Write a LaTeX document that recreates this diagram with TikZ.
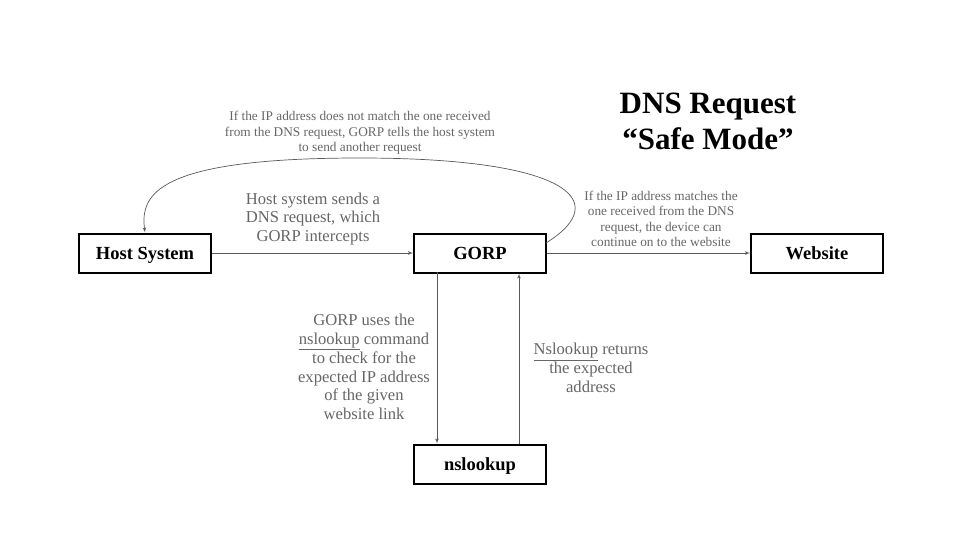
\documentclass[tikz,border=0pt]{standalone}
\usepackage{fontspec}
\setmainfont{Liberation Serif}
\usetikzlibrary{arrows}
\definecolor{linegray}{HTML}{595959}
\definecolor{textgray}{HTML}{666666}

\begin{document}
\begin{tikzpicture}[>=latex',x=1pt,y=-1pt]
  \tikzstyle{block}=[rectangle,draw=black,line width=2pt,minimum width=132pt,minimum height=39pt,inner sep=0pt,text height=12.4pt,text depth=0pt,font=\fontsize{18.5}{22}\selectfont\bfseries]
  \tikzstyle{note}=[text=textgray,align=center,inner sep=0pt,font=\fontsize{16.6}{18.8}\selectfont]
  \tikzstyle{smallnote}=[text=textgray,align=center,inner sep=0pt,font=\fontsize{13.3}{15.4}\selectfont]
  \tikzstyle{link}=[->,draw=linegray,line width=0.7pt]

\useasboundingbox (0,0) rectangle (960,540);

\begin{scope}
\node [block] (host) at (145,253) {Host System};
\node [block] (gorp) at (480,253) {GORP};
\node [block] (web) at (817,253) {Website};
\node [block] (ns) at (480,464) {nslookup};

\node [align=center,font=\fontsize{31}{36}\selectfont\bfseries] (title) at (708,121) {DNS Request\\``Safe Mode''};

\node [smallnote] (tretry) at (360,133) {If the IP address does not match the one received\\from the DNS request, GORP tells the host system\\to send another request};
\node [note] (tsend) at (313,219) {Host system sends a\\DNS request, which\\GORP intercepts};
\node [smallnote] (tmatch) at (661,219) {If the IP address matches the\\one received from the DNS\\request, the device can\\continue on to the website};
\node [note] (tlookup) at (364,367) {GORP uses the\\\underline{nslookup} command\\to check for the\\expected IP address\\of the given\\website link};
\node [note] (treturn) at (591,368) {\underline{Nslookup} returns\\the expected\\address};

\coordinate (gout) at (546,243);
\coordinate (gdown) at (437,272);
\coordinate (nsup) at (519,444);

\draw [link] (host) -- (gorp);
\draw [link] (gorp) -- (web);
\draw [link] (gdown) -- (gdown |- ns.north);
\draw [link] (nsup) -- (nsup |- gorp.south);
\draw [link] (gout) .. controls (615,200) and (565,158) .. (360,158)
  .. controls (155,158) and (140,195) .. (host.north);
\end{scope}
\end{tikzpicture}
\end{document}
